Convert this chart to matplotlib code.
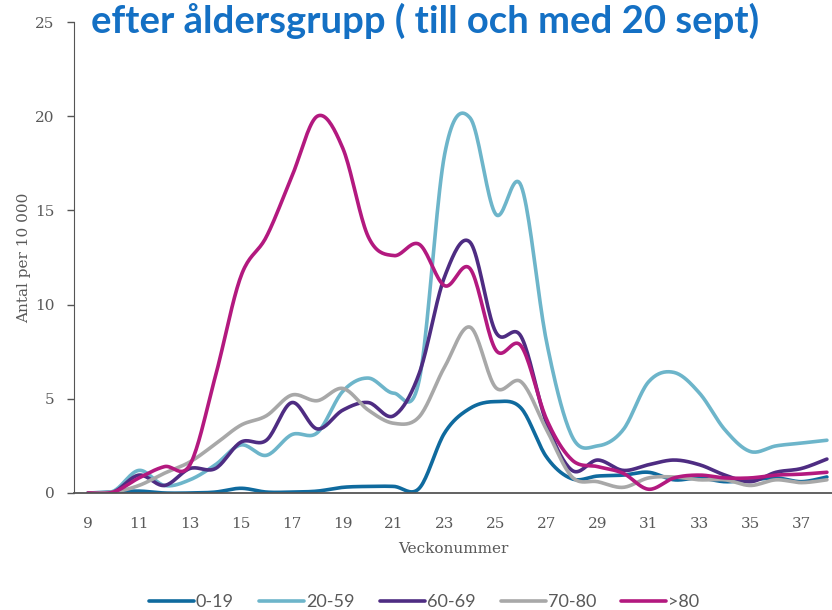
import numpy as np
import matplotlib
matplotlib.use("Agg")
import matplotlib.pyplot as plt

weeks = list(range(9, 39))

age_0_19 = [0, 0.05, 0.1, 0.0, 0.0, 0.05, 0.25, 0.05, 0.05, 0.1, 0.3, 0.35, 0.35, 0.25,
            3.2, 4.5, 4.85, 4.5, 1.9, 0.75, 0.9, 0.95, 1.1, 0.7, 0.8, 0.6, 0.7, 0.8, 0.6, 0.85]
age_20_59 = [0, 0.1, 1.2, 0.4, 0.7, 1.5, 2.55, 2.0, 3.1, 3.2, 5.4, 6.1, 5.3, 6.0,
             18.0, 19.9, 14.8, 16.3, 8.0, 3.0, 2.5, 3.35, 5.9, 6.4, 5.3, 3.35, 2.2, 2.5, 2.65, 2.8]
age_60_69 = [0, 0.05, 0.95, 0.4, 1.3, 1.3, 2.7, 2.8, 4.8, 3.4, 4.4, 4.8, 4.1, 6.35,
             11.5, 13.3, 8.55, 8.3, 3.7, 1.2, 1.75, 1.2, 1.5, 1.75, 1.5, 0.95, 0.6, 1.1, 1.3, 1.8]
age_70_80 = [0, 0.05, 0.4, 1.05, 1.65, 2.6, 3.6, 4.1, 5.2, 4.9, 5.55, 4.4, 3.7, 4.05,
             6.7, 8.8, 5.6, 5.9, 3.35, 0.85, 0.6, 0.3, 0.8, 0.85, 0.7, 0.7, 0.4, 0.7, 0.55, 0.7]
age_80_plus = [0, 0.05, 0.8, 1.4, 1.5, 6.2, 11.5, 13.6, 16.8, 20.0, 18.3, 13.6, 12.6, 13.2,
               11.0, 11.9, 7.6, 7.8, 3.9, 1.75, 1.4, 1.05, 0.2, 0.8, 0.95, 0.8, 0.8, 0.95, 1.0, 1.1]

labels = ["0-19", "20-59", "60-69", "70-80", ">80"]
colors = ["#0f6a9e", "#6db5ca", "#4e2c82", "#a8a8a8", "#b3197f"]
x_ticks = list(range(9, 38, 2))


def smooth(x, y, n=20):
    # catmull-rom style curve, like excel's smoothed lines
    x = np.asarray(x, float)
    y = np.asarray(y, float)
    px = np.concatenate([[x[0]], x, [x[-1]]])
    py = np.concatenate([[y[0]], y, [y[-1]]])
    xs, ys = [], []
    t = np.linspace(0, 1, n, endpoint=False)
    for i in range(1, len(px) - 2):
        for p, out in ((px, xs), (py, ys)):
            p0, p1, p2, p3 = p[i - 1], p[i], p[i + 1], p[i + 2]
            out.append(0.5 * (2 * p1 + (-p0 + p2) * t
                              + (2 * p0 - 5 * p1 + 4 * p2 - p3) * t ** 2
                              + (-p0 + 3 * p1 - 3 * p2 + p3) * t ** 3))
    xs.append([x[-1]])
    ys.append([y[-1]])
    return np.concatenate(xs), np.concatenate(ys)


fig = plt.figure(figsize=(8.32, 6.10), dpi=100)
ax = fig.add_axes([74 / 832, 1 - 493 / 610, 1 - 74 / 832, (493 - 22) / 610])

series = [age_0_19, age_20_59, age_60_69, age_70_80, age_80_plus]
for vals, lab, col in zip(series, labels, colors):
    sx, sy = smooth(weeks, vals)
    ax.plot(sx, sy, color=col, linewidth=2.6, label=lab, solid_capstyle="round")

ax.set_xlim(8.45, 38.2)
ax.set_ylim(0, 25)
ax.set_xticks(x_ticks)
ax.set_yticks([0, 5, 10, 15, 20, 25])

serif = "DejaVu Serif"
for lbl in ax.get_xticklabels() + ax.get_yticklabels():
    lbl.set_fontfamily(serif)
    lbl.set_fontsize(11)
    lbl.set_color("#595959")
ax.tick_params(axis="x", length=0, pad=17)
ax.tick_params(axis="y", length=5, width=1, color="#555555", direction="out", pad=9)

ax.spines["top"].set_visible(False)
ax.spines["right"].set_visible(False)
ax.spines["left"].set_color("#555555")
ax.spines["bottom"].set_color("#555555")
ax.spines["bottom"].set_linewidth(1.3)

ax.set_xlabel("Veckonummer", fontfamily=serif, fontsize=11, color="#595959", labelpad=8)
ax.set_ylabel("Antal per 10 000", fontfamily=serif, fontsize=11, color="#595959", labelpad=3)

fig.text(425 / 832, 1 - 21 / 610, "efter åldersgrupp ( till och med 20 sept)",
         ha="center", va="center", fontsize=27.5, fontweight="bold", color="#1470c4",
         fontfamily="Lato")

fig.legend(loc="center", bbox_to_anchor=(424 / 832, 1 - 602 / 610), ncol=5, frameon=False,
           handlelength=2.5, handletextpad=0.1, columnspacing=1.4,
           prop={"family": "Lato", "size": 13}, labelcolor="#595959")

fig.savefig("out.png", dpi=100)
